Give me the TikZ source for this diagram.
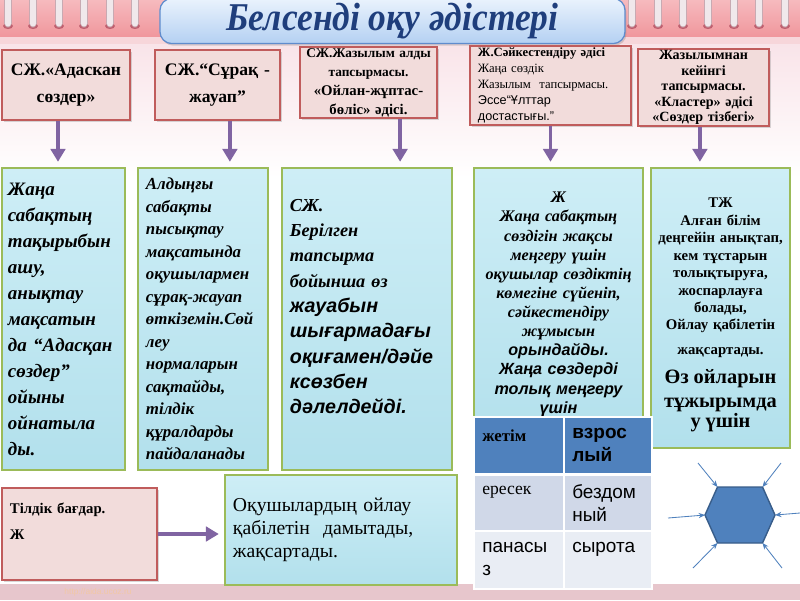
\documentclass[tikz,border=0pt]{standalone}
\usepackage{fontspec}
\setmainfont{Liberation Serif}
\setsansfont{Liberation Sans}
\newfontfamily\narrowserif[FakeStretch=0.9]{Liberation Serif}
\definecolor{Band}{RGB}{240,150,156}
\definecolor{BandTop}{RGB}{246,186,190}
\definecolor{BandStrip}{RGB}{247,214,218}
\definecolor{BandLow}{RGB}{249,228,233}
\definecolor{Hole}{RGB}{190,95,110}
\definecolor{RingGray}{RGB}{240,232,235}
\definecolor{RingEdge}{RGB}{200,170,178}
\definecolor{TitleTop}{RGB}{234,243,253}
\definecolor{TitleBot}{RGB}{180,208,242}
\definecolor{TitleEdge}{RGB}{95,140,205}
\definecolor{TitleInk}{RGB}{31,62,124}
\definecolor{PinkFill}{RGB}{242,220,219}
\definecolor{PinkEdge}{RGB}{192,92,92}
\definecolor{Drop}{RGB}{178,224,236}
\definecolor{DropLight}{RGB}{206,238,246}
\definecolor{DropEdge}{RGB}{155,187,89}
\definecolor{Flow}{RGB}{128,100,162}
\definecolor{TabHead}{RGB}{79,129,189}
\definecolor{TabOdd}{RGB}{208,216,232}
\definecolor{TabEven}{RGB}{233,237,244}
\definecolor{HexEdge}{RGB}{56,93,138}
\definecolor{Foot}{RGB}{231,198,204}
\definecolor{UrlInk}{RGB}{242,200,165}
\usepackage{tikz}
\usetikzlibrary{arrows.meta,positioning,shadows}

\begin{document}
\begin{tikzpicture}[x=0.025cm,y=-0.025cm,>={Triangle[width=3.6mm,length=3.2mm]},
  card/.style={draw=PinkEdge,line width=0.9pt,fill=PinkFill,align=center,inner ysep=1pt,inner xsep=0.1cm,
    drop shadow={shadow xshift=1.2pt,shadow yshift=-1.2pt,opacity=0.3}},
  drop/.style={draw=DropEdge,line width=0.8pt,top color=DropLight,bottom color=Drop,align=center,inner ysep=2pt},
  flow/.style={->,draw=Flow,line width=2.6pt,shorten >=4pt},
  cell/.style={anchor=north west,align=left,inner sep=0pt},
  spoke/.style={-{Stealth[length=1.6mm,width=1.3mm]},draw=TabHead,line width=0.6pt}]
  \useasboundingbox (0,0) rectangle (800,600);
  \fill[white] (0,0) rectangle (800,600);
  \shade[top color=BandLow,bottom color=white] (0,44) rectangle (800,178);
  \shade[top color=BandTop,bottom color=Band] (0,0) rectangle (800,37);
  \fill[BandStrip] (0,37) rectangle (800,44);
  \foreach \x in {8,33,59,84,110,135,632,658,683,708,734,759,785} {
    \fill[Hole] (\x,26) ellipse (5 and 3);
    \filldraw[fill=RingGray,draw=RingEdge,line width=0.4pt,rounded corners=0.09cm] (\x-3.5,-4) rectangle (\x+3.5,27);
  }
  \fill[Foot] (0,584) rectangle (800,600);
  \node[font=\sffamily\fontsize{6}{7}\selectfont,text=UrlInk] (url) at (98,592) {http://aida.ucoz.ru};

  \node[draw=TitleEdge,line width=0.9pt,rounded corners=0.3cm,top color=TitleTop,bottom color=TitleBot,
    minimum width=11.625cm,minimum height=1.1cm,text=TitleInk,
    font=\narrowserif\bfseries\itshape\fontsize{28}{30}\selectfont,
    drop shadow={shadow xshift=1pt,shadow yshift=-1.5pt,opacity=0.3}] (ttl) at (392.5,21) {Белсенді оқу әдістері};

  \node[card,text width=3cm,minimum height=1.75cm,font=\bfseries\fontsize{12.5}{19}\selectfont] (t1) at (66,85) {СЖ.«Адаскан\\сөздер»};
  \node[card,text width=2.925cm,minimum height=1.75cm,font=\bfseries\fontsize{12.5}{19}\selectfont] (t2) at (217.5,85) {СЖ.“Сұрақ -\\жауап”};
  \node[card,inner xsep=0.05cm,text width=3.325cm,minimum height=1.775cm,font=\bfseries\fontsize{9.5}{13.5}\selectfont] (t3) at (368.5,82.5)
    {СЖ.Жазылым алды\\тапсырмасы.\\{\fontsize{10.5}{13.5}\selectfont«Ойлан-жұптас-}\\{\fontsize{10.5}{13.5}\selectfont бөліс» әдісі.}};
  \node[card,align=left,inner xsep=0.2cm,text width=3.625cm,minimum height=1.925cm,font=\fontsize{9}{11.5}\selectfont] (t4) at (550.5,85.5)
    {\textbf{Ж.Сәйкестендіру әдісі}\\Жаңа сөздік\\Жазылым\ \ тапсырмасы.\\\textsf{Эссе“Ұлттар}\\\textsf{достастығы.”}};
  \node[card,text width=3.075cm,minimum height=1.875cm,font=\bfseries\fontsize{10}{11}\selectfont] (t5) at (703.5,87.5)
    {Жазылымнан\\кейінгі\\тапсырмасы.\\«Кластер» әдісі\\«Сөздер тізбегі»};

  \node[drop,align=left,inner xsep=0.15cm,text width=2.775cm,minimum height=7.55cm,font=\bfseries\itshape\fontsize{13.5}{18.5}\selectfont] (b1) at (63.5,319)
    {Жаңа\\сабақтың\\тақырыбын\\ашу,\\анықтау\\мақсатын\\да “Адасқан\\сөздер”\\ойыны\\ойнатыла\\ды.};
  \node[drop,align=left,inner xsep=0.2cm,text width=2.85cm,minimum height=7.55cm,font=\bfseries\itshape\fontsize{12}{16}\selectfont] (b2) at (203,319)
    {Алдыңғы\\сабақты\\пысықтау\\мақсатында\\оқушылармен\\сұрақ-жауап\\өткіземін.Сөй\\леу\\нормаларын\\сақтайды,\\тілдік\\құралдарды\\пайдаланады};
  \node[drop,align=left,inner xsep=0.2cm,text width=3.85cm,minimum height=7.55cm,font=\bfseries\itshape\fontsize{13}{18}\selectfont] (b3) at (367,319)
    {СЖ.\\Берілген\\тапсырма\\бойынша өз\\{\sffamily\fontsize{14}{18}\selectfont жауабын\\шығармадағы\\оқиғамен/дәйе\\ксөзбен\\дәлелдейді.}\\[0pt]\mbox{}};
  \node[drop,inner xsep=0.1cm,text width=4.025cm,minimum height=7cm,font=\bfseries\itshape\fontsize{11.5}{13.6}\selectfont] (b4) at (558.5,308)
    {Ж\\Жаңа сабақтың\\сөздігін жақсы\\меңгеру үшін\\оқушылар сөздіктің\\көмегіне сүйеніп,\\сәйкестендіру\\жұмысын\\{\sffamily\fontsize{11.5}{13.6}\selectfont орындайды.\\Жаңа сөздерді\\толық меңгеру\\үшін}\\[-6pt]\mbox{}};
  \node[drop,inner xsep=0.05cm,text width=3.375cm,minimum height=7cm,font=\bfseries\fontsize{10.5}{12.4}\selectfont] (b5) at (720.5,308)
    {\rule{0pt}{17pt}ТЖ\\Алған білім\\деңгейін анықтап,\\кем тұстарын\\толықтыруға,\\жоспарлауға\\болады,\\Ойлау қабілетін\\[5pt]жақсартады.\\[3pt]{\fontsize{14.5}{17.5}\selectfont Өз ойларын\\тұжырымда\\у үшін}};

  \draw[flow] ([xshift=-0.2cm]t1.south) -- ([xshift=-0.2cm]t1.south |- b1.north);
  \draw[flow] ([xshift=0.31cm]t2.south) -- ([xshift=0.31cm]t2.south |- b2.north);
  \draw[flow] ([xshift=0.79cm]t3.south) -- ([xshift=0.79cm]t3.south |- b3.north);
  \draw[flow] (t4.south) -- (t4.south |- b4.north);
  \draw[flow] ([xshift=-0.09cm]t5.south) -- ([xshift=-0.09cm]t5.south |- b5.north);

  \node[card,align=left,inner xsep=0.2cm,text width=3.475cm,minimum height=2.3cm,font=\bfseries\fontsize{10.5}{18}\selectfont] (tl) at (79.5,534)
    {Тілдік бағдар.\\Ж\\[0pt]\mbox{}};
  \node[drop,align=left,inner xsep=0.2cm,text width=5.4cm,minimum height=2.75cm,font=\fontsize{14}{16.5}\selectfont] (ob) at (341,530)
    {Оқушылардың ойлау\\қабілетін\ \ дамытады,\\жақсартады.};
  \draw[flow] (tl.east) -- (tl.east -| ob.west);

  \fill[white] (473,416) rectangle (653,590);
  \fill[TabHead] (475,418) rectangle (563,473);
  \fill[TabHead] (565,418) rectangle (651,473);
  \fill[TabOdd] (475,476) rectangle (563,530);
  \fill[TabOdd] (565,476) rectangle (651,530);
  \fill[TabEven] (475,532) rectangle (563,588);
  \fill[TabEven] (565,532) rectangle (651,588);
  \node[cell,font=\bfseries\fontsize{12}{16.5}\selectfont] (c11) at (482,429) {жетім};
  \node[cell,font=\sffamily\bfseries\fontsize{13.5}{16.5}\selectfont] (c12) at (572,428) {взрос\\лый};
  \node[cell,font=\fontsize{12.5}{16.5}\selectfont] (c21) at (482,486) {ересек};
  \node[cell,font=\sffamily\fontsize{13.5}{16.5}\selectfont] (c22) at (572,484) {бездом\\ный};
  \node[cell,font=\sffamily\fontsize{13.5}{16.5}\selectfont] (c31) at (482,542) {панасы\\з};
  \node[cell,font=\sffamily\fontsize{13.5}{16.5}\selectfont] (c32) at (572,542) {сырота};

  \coordinate (h1) at (717.5,487);
  \coordinate (h2) at (762.5,487);
  \coordinate (h3) at (775,515);
  \coordinate (h4) at (762.5,543);
  \coordinate (h5) at (717.5,543);
  \coordinate (h6) at (705,515);
  \filldraw[fill=TabHead,draw=HexEdge,line width=1pt] (h1) -- (h2) -- (h3) -- (h4) -- (h5) -- (h6) -- cycle;
  \coordinate (s1) at (698,463);
  \coordinate (s2) at (781,463);
  \coordinate (s3) at (800,513);
  \coordinate (s4) at (782,568);
  \coordinate (s5) at (693,568);
  \coordinate (s6) at (668,518);
  \draw[spoke] (s1) -- (h1);
  \draw[spoke] (s2) -- (h2);
  \draw[spoke] (s3) -- (h3);
  \draw[spoke] (s4) -- (h4);
  \draw[spoke] (s5) -- (h5);
  \draw[spoke] (s6) -- (h6);
\end{tikzpicture}
\end{document}
